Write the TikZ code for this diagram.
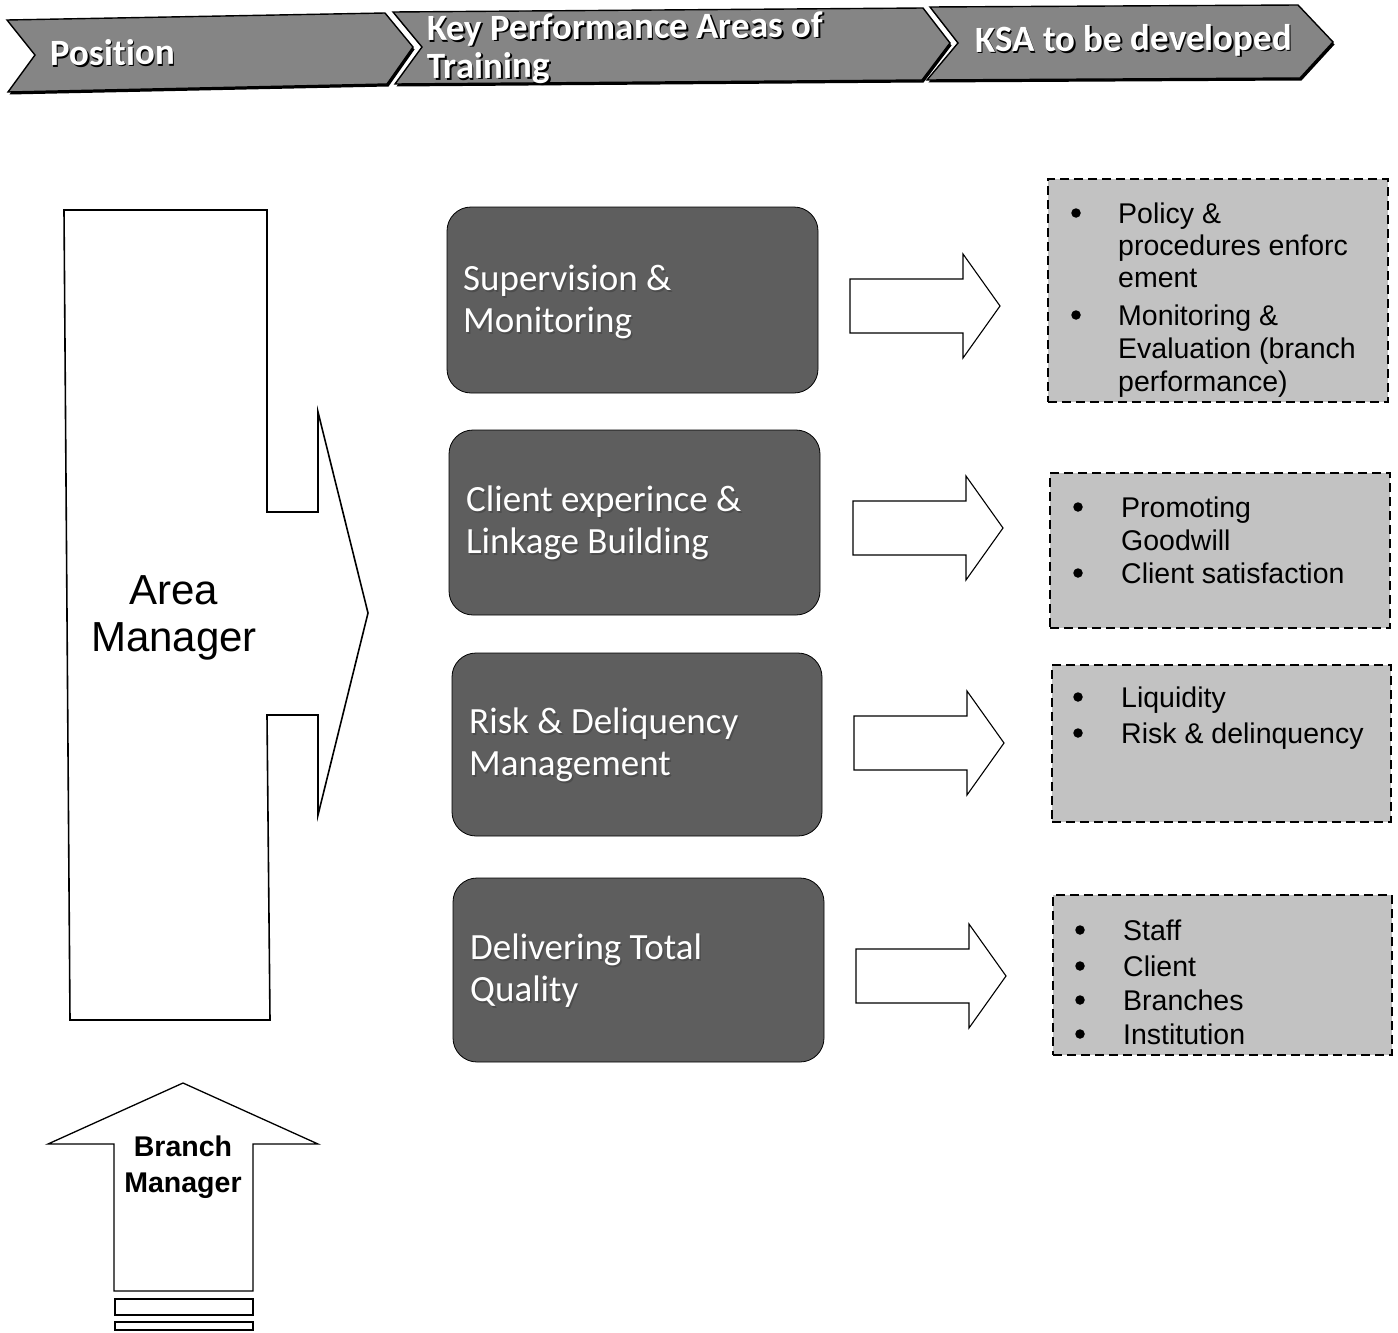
\documentclass[tikz,border=0pt]{standalone}
\usepackage{fontspec}
\setmainfont{Liberation Sans}
\newfontfamily\carlito[Ligatures=NoCommon]{Carlito}
\definecolor{bandgray}{gray}{0.52}
\definecolor{kpagray}{gray}{0.37}
\definecolor{ksagray}{gray}{0.76}
\begin{document}
\begin{tikzpicture}[x=1pt,y=-1pt,
  band/.style={fill=bandgray, draw=black, line width=1.4pt, line join=miter,
    preaction={fill=black, transform canvas={shift={(1.5pt,-2.5pt)}}}},
  bandtxt/.style={text=white, font=\carlito\bfseries\fontsize{37}{38}\selectfont,
    anchor=west, inner sep=0pt, align=left},
  bandshade/.style={bandtxt, text=black},
  hollow/.style={draw=black, fill=white, line width=1.1pt, line join=miter},
  kpa/.style={draw=black, fill=kpagray, line width=0.8pt, rounded corners=24pt,
    inner sep=0pt},
  kpatxt/.style={text=white, font=\carlito\fontsize{37}{42}\selectfont,
    anchor=west, inner sep=0pt, align=left},
  kpashade/.style={kpatxt, text=black!70},
  ksa/.style={draw=black, fill=ksagray, line width=1.6pt, dash pattern=on 9pt off 5pt,
    inner sep=0pt},
  ksaitem/.style={anchor=base west, inner sep=0pt, font=\fontsize{28.5}{34}\selectfont},
  blt/.style={circle, fill=black, inner sep=0pt, minimum size=9.5pt},
  fatarrow/.pic={
    \draw[hollow] (0,-27) -- (113,-27) -- (113,-52) -- (150,0) -- (113,52)
      -- (113,27) -- (0,27) -- cycle;}
]
\useasboundingbox (0,0) rectangle (1398,1333);

% ---- header bands ----
\draw[band] (7,20) -- (385,13) -- (413,47) -- (387,84) -- (8,92) -- (35,55) -- cycle;
\draw[band] (393,12) -- (923,8) -- (950,43) -- (922,80) -- (395,84) -- (422,47) -- cycle;
\draw[band] (930,7) -- (1298,5) -- (1333,42) -- (1300,78) -- (927,80) -- (958,43) -- cycle;
\node[bandshade, rotate=0.6] (hpos-s) at (51.6,54.6) {Position};
\node[bandshade, rotate=0.5] (hkpa-s) at (428.6,51.6) {Key Performance Areas of\\Training};
\node[bandshade, rotate=0.4] (hksa-s) at (976.6,43.6) {KSA to be developed};
\node[bandtxt, rotate=0.6] (hpos) at (50,53) {Position};
\node[bandtxt, rotate=0.5] (hkpa) at (427,50) {Key Performance Areas of\\Training};
\node[bandtxt, rotate=0.4] (hksa) at (975,42) {KSA to be developed};

% ---- position arrows ----
\draw[hollow, line width=1.6pt] (64,210) -- (267,210) -- (267,512) -- (318,512) -- (318,412)
  -- (368,613) -- (318,815) -- (318,715) -- (267,715) -- (270,1020) -- (70,1020) -- cycle;
\node[align=center, font=\fontsize{42}{47}\selectfont, inner sep=0pt] (area) at (174,618)
  {Area\\Manager};

\draw[hollow, line width=1.3pt] (183,1083) -- (318,1144) -- (253,1144) -- (253,1291)
  -- (114,1291) -- (114,1144) -- (48,1144) -- cycle;
\node[align=center, font=\bfseries\fontsize{28.5}{36}\selectfont, inner sep=0pt] (branch)
  at (183,1167) {Branch\\Manager};
\draw[hollow, line width=1.3pt] (115,1299) rectangle (253,1315);
\draw[hollow, line width=1.3pt] (115,1322) rectangle (253,1330);

% ---- key performance areas ----
\node[kpa, minimum width=371pt, minimum height=186pt] (kpa1) at (632.5,300) {};
\node[kpa, minimum width=371pt, minimum height=185pt] (kpa2) at (634.5,522.5) {};
\node[kpa, minimum width=370pt, minimum height=183pt] (kpa3) at (637,744.5) {};
\node[kpa, minimum width=371pt, minimum height=184pt] (kpa4) at (638.5,970) {};
\node[kpashade] (kpa1s) at (464.5,303.5) {Supervision \&\\Monitoring};
\node[kpashade] (kpa2s) at (467.5,524.5) {Client experince \&\\Linkage Building};
\node[kpashade] (kpa3s) at (470.5,746.5) {Risk \& Deliquency\\Management};
\node[kpashade] (kpa4s) at (471.5,972.5) {Delivering Total\\Quality};
\node[kpatxt] (kpa1t) at (463,302) {Supervision \&\\Monitoring};
\node[kpatxt] (kpa2t) at (466,523) {Client experince \&\\Linkage Building};
\node[kpatxt] (kpa3t) at (469,745) {Risk \& Deliquency\\Management};
\node[kpatxt] (kpa4t) at (470,971) {Delivering Total\\Quality};

% ---- hollow arrows ----
\pic at (850,306) {fatarrow};
\pic at (853,528) {fatarrow};
\pic at (854,743) {fatarrow};
\pic at (856,976) {fatarrow};

% ---- KSA boxes ----
\node[ksa, minimum width=340pt, minimum height=223pt] (ksa1) at (1218,290.5) {};
\node[ksa, minimum width=340pt, minimum height=155pt] (ksa2) at (1220,550.5) {};
\node[ksa, minimum width=339pt, minimum height=157pt] (ksa3) at (1221.5,743.5) {};
\node[ksa, minimum width=339pt, minimum height=160pt] (ksa4) at (1222.5,975) {};

\node[blt] (b1a) at (1076,213) {};
\node[blt] (b1b) at (1076,315) {};
\node[ksaitem] (t1a) at (1118,223) {Policy \&};
\node[ksaitem] (t1b) at (1118,255) {procedures enforc};
\node[ksaitem] (t1c) at (1118,287) {ement};
\node[ksaitem] (t1d) at (1118,325) {Monitoring \&};
\node[ksaitem] (t1e) at (1118,358) {Evaluation (branch};
\node[ksaitem] (t1f) at (1118,391) {performance)};

\node[blt] (b2a) at (1078,507) {};
\node[blt] (b2b) at (1078,573) {};
\node[ksaitem] (t2a) at (1121,517) {Promoting};
\node[ksaitem] (t2b) at (1121,550) {Goodwill};
\node[ksaitem] (t2c) at (1121,583) {Client satisfaction};

\node[blt] (b3a) at (1078,697) {};
\node[blt] (b3b) at (1078,733) {};
\node[ksaitem] (t3a) at (1121,707) {Liquidity};
\node[ksaitem] (t3b) at (1121,743) {Risk \& delinquency};

\node[blt] (b4a) at (1080,930) {};
\node[blt] (b4b) at (1080,966) {};
\node[blt] (b4c) at (1080,1000) {};
\node[blt] (b4d) at (1080,1034) {};
\node[ksaitem] (t4a) at (1123,940) {Staff};
\node[ksaitem] (t4b) at (1123,976) {Client};
\node[ksaitem] (t4c) at (1123,1010) {Branches};
\node[ksaitem] (t4d) at (1123,1044) {Institution};
\end{tikzpicture}
\end{document}
